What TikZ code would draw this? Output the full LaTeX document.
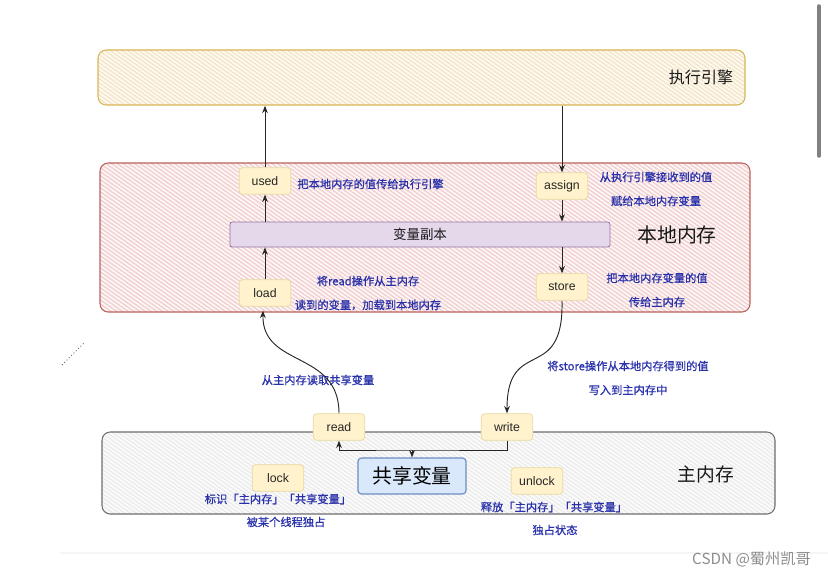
\documentclass[tikz,border=0pt]{standalone}
\usepackage{fontspec}
\setmainfont{Liberation Sans}
\newfontfamily\cjk{Noto Sans CJK SC}
\newfontfamily\cjkmed[FakeBold=0.6]{Noto Sans CJK SC}
\usetikzlibrary{arrows.meta,patterns.meta,fit,calc}
\definecolor{engineLine}{RGB}{214,182,86}
\definecolor{engineFill}{RGB}{255,252,244}
\definecolor{engineHatch}{RGB}{244,230,204}
\definecolor{localLine}{RGB}{188,96,92}
\definecolor{localFill}{RGB}{255,250,250}
\definecolor{localHatch}{RGB}{242,208,208}
\definecolor{mainLine}{RGB}{110,110,110}
\definecolor{mainFill}{RGB}{252,252,252}
\definecolor{mainHatch}{RGB}{236,236,236}
\definecolor{opFill}{RGB}{255,242,204}
\definecolor{opLine}{RGB}{232,216,160}
\definecolor{copyFill}{RGB}{228,216,234}
\definecolor{copyLine}{RGB}{150,115,166}
\definecolor{sharedFill}{RGB}{218,232,252}
\definecolor{sharedLine}{RGB}{108,142,191}
\definecolor{noteBlue}{RGB}{40,48,170}
\tikzset{
    region/.style={rectangle,rounded corners=7pt,line width=0.9pt,inner sep=0pt,
        preaction={fill=#1Fill},pattern={Lines[angle=-35,distance=2.8pt,line width=1.3pt]},
        pattern color=#1Hatch,draw=#1Line},
    op/.style={rectangle,rounded corners=3pt,draw=opLine,fill=opFill,line width=0.6pt,
        minimum width=1.55cm,minimum height=0.8cm,font=\fontsize{10.5}{12}\selectfont,text=black!85},
    note/.style={font=\cjkmed\fontsize{9.6}{11}\selectfont,text=noteBlue,inner sep=1pt},
    title/.style={font=\cjk\fontsize{#1}{20}\selectfont,text=black!90,inner sep=1pt},
    arr/.style={-{Stealth[length=2.2mm,width=1.7mm]},line width=0.8pt,black!85}
}
\begin{document}
\begin{tikzpicture}[x=0.03cm,y=-0.03cm]
    \useasboundingbox (0,0) rectangle (828,578);
    % regions
    \node[region=engine,fit={(98,50)(745,105)}] (engine) {};
    \node[region=local,fit={(100,163)(750,312)}] (local) {};
    \node[region=main,fit={(102,432)(775,514)}]  (main)  {};
    \node[title=13.7] (engineLbl) at (701,77)  {执行引擎};
    \node[title=17]   (localLbl)  at (677,235) {本地内存};
    \node[title=16]   (mainLbl)   at (706,474) {主内存};

    \node[rectangle,draw=copyLine,fill=copyFill,rounded corners=2pt,line width=0.7pt,inner sep=0pt,
        fit={(230,222)(610,247)}] (copy) {};
    \node[title=11.5] at (copy.center) {变量副本};

    % operations
    \node[op] (used)   at (265,181) {used};
    \node[op] (load)   at (265,293) {load};
    \node[op] (assign) at (562,186) {assign};
    \node[op] (store)  at (562,287) {store};
    \node[op] (read)   at (339,427) {read};
    \node[op] (write)  at (507,427) {write};
    \node[op] (lock)   at (278,478) {lock};
    \node[op] (unlock) at (537,481) {unlock};
    \node[rectangle,draw=sharedLine,fill=sharedFill,rounded corners=3pt,line width=1pt,
        minimum width=3.24cm,minimum height=1.08cm,font=\cjk\fontsize{17}{20}\selectfont] (shared) at (412,476) {共享变量};

    % notes
    \node[note,anchor=west] (nUsed)  at (296,184) {把本地内存的值传给执行引擎};
    \node[note] (nAssignA) at (656,177) {从执行引擎接收到的值};
    \node[note] (nAssignB) at (656,201) {赋给本地内存变量};
    \node[note] (nLoadA)   at (368,281) {将read操作从主内存};
    \node[note] (nLoadB)   at (368,305) {读到的变量，加载到本地内存};
    \node[note] (nStoreA)  at (657,278) {把本地内存变量的值};
    \node[note] (nStoreB)  at (657,302) {传给主内存};
    \node[note] (nRead)    at (318,380) {从主内存读取共享变量};
    \node[note] (nWriteA)  at (628,366) {将store操作从本地内存得到的值};
    \node[note] (nWriteB)  at (628,390) {写入到主内存中};
    \node[note] (nLockA)   at (278,499) {标识「主内存」「共享变量」};
    \node[note] (nLockB)   at (286,522) {被某个线程独占};
    \node[note] (nUnlockA) at (554,507) {释放「主内存」「共享变量」};
    \node[note] (nUnlockB) at (555,530) {独占状态};

    % connectors
    \draw[arr] (used) -- (used |- engine.south);
    \draw[arr] (used |- copy.north) -- (used);
    \draw[arr] (load) -- (load |- copy.south);
    \draw[arr] (assign |- engine.south) -- (assign);
    \draw[arr] (assign) -- (assign |- copy.north);
    \draw[arr] (store |- copy.south) -- (store);
    \draw[arr] (read.north) .. controls (339,350) and (262,368) .. ($(load.south)+(-2,4)$);
    \draw[arr] (store.south) .. controls (564,385) and (507,335) .. (write.north);
    \coordinate (bus) at (412,450);
    \draw[arr] (write.south) |- (bus) -| (read.south);
    \draw[arr] (bus) -- (shared.north);

    % page furniture
    \draw[black!4,line width=1pt] (60,553) -- (828,553);
    \draw[black!50,line width=3pt,line cap=round] (819,6) -- (819,156);
    \draw[black!60,dotted,line width=0.8pt] (62,365) -- (84,343);
    \node[font=\cjk\fontsize{13}{15}\selectfont,text=black!45,anchor=east] (mark) at (815,559) {CSDN @蜀州凯哥};
\end{tikzpicture}
\end{document}
